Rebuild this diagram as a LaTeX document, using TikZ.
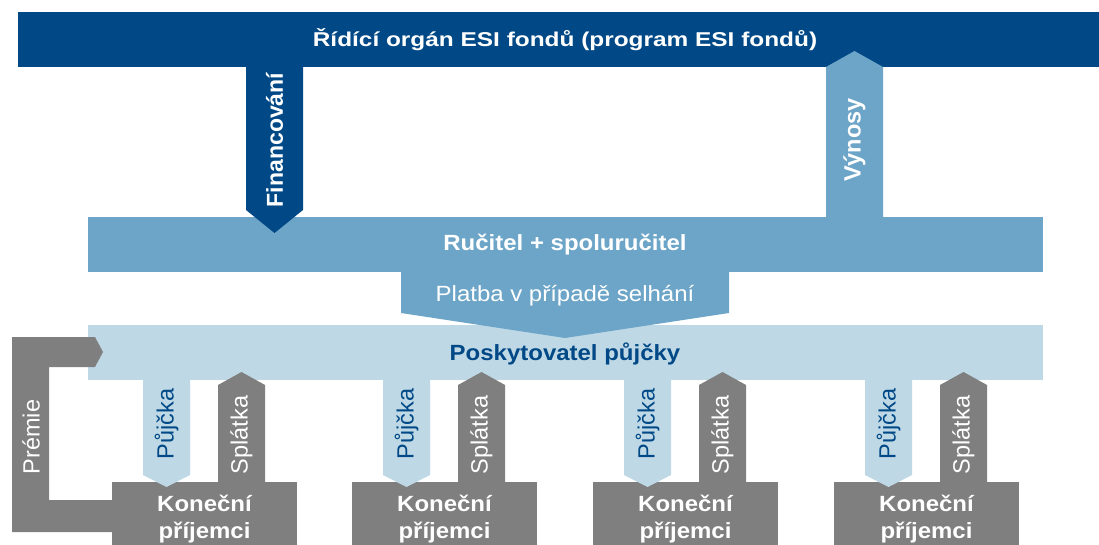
\documentclass[tikz,border=0pt]{standalone}
\usepackage{fontspec}
\setmainfont{Liberation Sans}
\definecolor{dblue}{RGB}{0,73,134}
\definecolor{mblue}{RGB}{108,165,199}
\definecolor{lblue}{RGB}{191,216,230}
\definecolor{dgrey}{RGB}{127,127,127}
\newcommand{\hs}[1]{\scalebox{1.09}[1]{#1}}
\begin{document}
\begin{tikzpicture}[x=1pt,y=-1pt,
  htext/.style={inner sep=0pt, font=\fontsize{22}{27}\selectfont},
  vtext/.style={inner sep=0pt, rotate=90, font=\fontsize{23.5}{27}\selectfont}]
\useasboundingbox (0,0) rectangle (1099,545);
\clip (0,0) rectangle (1099,545);
% top bar
\fill[dblue] (18,12) rectangle (1099,67);
\node[inner sep=0pt, text=white, font=\fontsize{20}{24}\selectfont\bfseries] (ro) at (565,40) {\scalebox{1.22}[1]{Řídící orgán ESI fondů (program ESI fondů)}};
% Rucitel bar
\fill[mblue] (88,217) rectangle (1043,272);
\node[htext, text=white, font=\fontsize{22}{27}\selectfont\bfseries] (ru) at (565,245) {\hs{Ručitel + spoluručitel}};
% Financovani
\fill[dblue] (246,67) -- (303,67) -- (303,210) -- (274.5,233) -- (246,210) -- cycle;
\node[vtext, text=white, font=\fontsize{23}{27}\selectfont\bfseries] (fin) at (274.5,140) {Financování};
% Vynosy
\fill[mblue] (826,217) -- (826,67) -- (854.5,51) -- (883,67) -- (883,217) -- cycle;
\node[vtext, text=white, font=\fontsize{23.5}{27}\selectfont\bfseries] (vyn) at (854.5,140) {Výnosy};
% Poskytovatel bar
\fill[lblue] (88,325) rectangle (1043,380);
% Platba
\fill[mblue] (401,271) -- (729,271) -- (729,313) -- (565,338) -- (401,313) -- cycle;
\node[htext, text=white] (pl) at (565,296) {\hs{Platba v případě selhání}};
\node[htext, text=dblue, font=\fontsize{22}{27}\selectfont\bfseries] (po) at (565,354) {\hs{Poskytovatel půjčky}};
% groups
\foreach \gx/\n in {112/1,352/2,593/3,834/4}{
  \fill[dgrey] (\gx,482) rectangle (\gx+185,550);
  \node[htext, text=white, align=center, font=\fontsize{22}{27}\selectfont\bfseries] (k\n) at (\gx+92.5,519) {\hs{Koneční}\\\hs{příjemci}};
  \fill[lblue] (\gx+31,379) -- (\gx+78,379) -- (\gx+78,475) -- (\gx+54.5,487) -- (\gx+31,475) -- cycle;
  \node[vtext, text=dblue] (p\n) at (\gx+54.5,424) {Půjčka};
  \fill[dgrey] (\gx+106,483) -- (\gx+106,385) -- (\gx+129.5,372) -- (\gx+153,385) -- (\gx+153,483) -- cycle;
  \node[vtext, text=white] (s\n) at (\gx+129.5,435) {Splátka};
}
% Premie
\fill[dgrey] (12,337) -- (95,337) -- (103,352) -- (95,367) -- (49,367) -- (49,500) -- (113,500) -- (113,532) -- (12,532) -- cycle;
\node[vtext, text=white] (pr) at (31,437) {Prémie};
\end{tikzpicture}
\end{document}
